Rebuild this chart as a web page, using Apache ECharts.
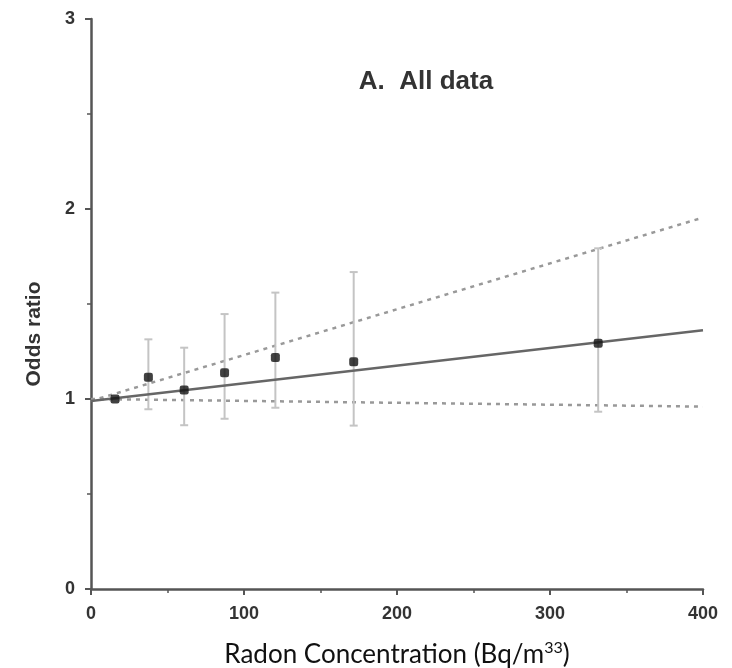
<!DOCTYPE html>
<html>
<head>
<meta charset="utf-8">
<script src="https://cdn.jsdelivr.net/npm/echarts@6/dist/echarts.min.js"></script>
<style>
  html, body { margin: 0; padding: 0; background: #fff; }
  #chart { width: 732px; height: 668px; }
</style>
</head>
<body>
<div id="chart"></div>
<script>
// radon categories (mean concentration) and odds ratios
const radon = [15.7, 37.5, 60.9, 87.3, 120.5, 171.7, 331.5];
const oddsRatio = [1.0, 1.114, 1.047, 1.138, 1.219, 1.196, 1.293];
const ciLow = [1.0, 0.946, 0.862, 0.896, 0.954, 0.86, 0.933];
const ciHigh = [1.0, 1.314, 1.27, 1.447, 1.56, 1.668, 1.793];

// fitted line and its confidence limits, at x = 0 and x = 400
const fitX = [0, 400];
const fitMid = [0.99, 1.362];
const fitUpper = [0.99, 1.955];
const fitLower = [1.0, 0.96];

const chart = echarts.init(document.getElementById('chart'));

const pts = radon.map((x, i) => [x, oddsRatio[i]]);
const bars = radon.map((x, i) => [x, ciLow[i], ciHigh[i]]);
const lineData = arr => fitX.map((x, i) => [x, arr[i]]);

const axisCol = '#555';
const labelStyle = { color: '#333', fontFamily: 'Liberation Sans', fontWeight: 'bold', fontSize: 18 };

let option = {
  animation: false,
  title: {
    text: 'A.  All data',
    left: 421, top: 64, textAlign: 'center',
    textStyle: { fontFamily: 'Liberation Sans', fontWeight: 'bold', fontSize: 26, color: '#333' }
  },
  grid: { left: 91, right: 29, top: 19, bottom: 79, outerBoundsMode: 'none', containLabel: false },
  xAxis: {
    type: 'value', min: 0, max: 400, interval: 100,
    name: 'Radon Concentration (Bq/m{sup|33})',
    nameLocation: 'middle', nameGap: 51,
    nameTextStyle: {
      fontFamily: 'Lato', fontSize: 26, color: '#111',
      rich: { sup: { fontFamily: 'Lato', fontSize: 16, color: '#111', verticalAlign: 'top', padding: [0, 0, 14, 0] } }
    },
    axisLine: { lineStyle: { color: axisCol, width: 2.5 } },
    axisTick: { length: 6, lineStyle: { color: axisCol, width: 2 } },
    minorTick: { show: true, splitNumber: 2, length: 4, lineStyle: { color: axisCol, width: 1.5 } },
    axisLabel: Object.assign({ margin: 16 }, labelStyle),
    splitLine: { show: false }
  },
  yAxis: {
    type: 'value', min: 0, max: 3, interval: 1,
    name: 'Odds ratio', nameLocation: 'middle', nameGap: 46, nameRotate: 90,
    nameTextStyle: { fontFamily: 'Liberation Sans', fontWeight: 'bold', fontSize: 21, color: '#333', padding: [0, 60, 0, 0] },
    axisLine: { show: true, lineStyle: { color: axisCol, width: 2.5 } },
    axisTick: { show: true, length: 6, lineStyle: { color: axisCol, width: 2 } },
    minorTick: { show: true, splitNumber: 2, length: 4, lineStyle: { color: axisCol, width: 1.5 } },
    axisLabel: Object.assign({ margin: 16 }, labelStyle),
    splitLine: { show: false }
  },
  series: [
    {
      type: 'line', data: lineData(fitUpper), symbol: 'none', z: 2,
      lineStyle: { color: '#999', width: 2.5, type: [4, 5] }
    },
    {
      type: 'line', data: lineData(fitLower), symbol: 'none', z: 2,
      lineStyle: { color: '#999', width: 2.5, type: [4, 5] }
    },
    {
      type: 'custom', data: bars, z: 3,
      renderItem: function (params, api) {
        const x = api.value(0);
        const lo = api.coord([x, api.value(1)]);
        const hi = api.coord([x, api.value(2)]);
        const cap = 4;
        const st = { stroke: '#c4c4c4', lineWidth: 2 };
        return {
          type: 'group',
          children: [
            { type: 'line', shape: { x1: lo[0], y1: lo[1], x2: hi[0], y2: hi[1] }, style: st },
            { type: 'line', shape: { x1: lo[0] - cap, y1: lo[1], x2: lo[0] + cap, y2: lo[1] }, style: st },
            { type: 'line', shape: { x1: hi[0] - cap, y1: hi[1], x2: hi[0] + cap, y2: hi[1] }, style: st }
          ]
        };
      }
    },
    {
      type: 'line', data: lineData(fitMid), symbol: 'none', z: 4,
      lineStyle: { color: '#666', width: 2.5 }
    },
    {
      type: 'scatter', data: pts, symbol: 'roundRect', symbolSize: 9, z: 5,
      itemStyle: { color: '#111' }
    }
  ]
};
chart.setOption(option);
</script>
</body>
</html>
